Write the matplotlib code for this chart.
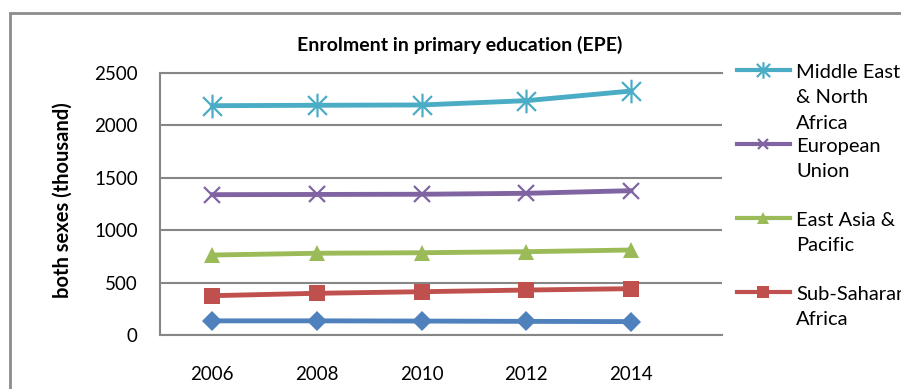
import numpy as np
import matplotlib.pyplot as plt
from matplotlib.path import Path
from matplotlib.lines import Line2D
from matplotlib.patches import Rectangle

plt.rcParams['font.family'] = ['Lato', 'DejaVu Sans']

years = [2006, 2008, 2010, 2012, 2014]
mena = [2188, 2192, 2195, 2236, 2328]
eu = [1339, 1341, 1343, 1352, 1377]
east_asia = [763, 780, 785, 795, 811]
ssa = [375, 398, 413, 429, 442]
other = [135, 135, 133, 130, 128]

labels = ['Middle East\n& North\nAfrica', 'European\nUnion',
          'East Asia &\nPacific', 'Sub-Saharan\nAfrica']

# asterisk like the Excel one: vertical bar plus an X
star = Path([(0, -1), (0, 1), (-0.8, -0.8), (0.8, 0.8), (-0.8, 0.8), (0.8, -0.8)],
            [Path.MOVETO, Path.LINETO, Path.MOVETO, Path.LINETO, Path.MOVETO, Path.LINETO])

W, H = 901, 389
fig = plt.figure(figsize=(W / 100, H / 100), dpi=100)
ax = fig.add_axes([160 / W, 1 - 335 / H, (722 - 160) / W, (335 - 73) / H])

# outer chart border (cut off on the right and bottom)
fig.add_artist(Rectangle((10 / W, -0.1), 1.2, 1.1 - 13 / H, transform=fig.transFigure,
                         fill=False, edgecolor='#8c8c8c', linewidth=2))

series = [
    (mena, '#4BACC6', star, 17, 1.6),
    (eu, '#8064A2', 'x', 11, 1.6),
    (east_asia, '#9BBB59', '^', 12, 0),
    (ssa, '#C0504D', 's', 12, 0),
    (other, '#4F81BD', 'D', 10, 0),
]
for vals, c, m, ms, mew in series:
    ax.plot(years, vals, color=c, linewidth=3.5, marker=m, markersize=ms,
            markeredgewidth=mew, markeredgecolor=c, markerfacecolor=c, zorder=3)

ax.set_xlim(2005.0, 2015.74)
ax.set_ylim(0, 2500)
ax.set_yticks(np.arange(0, 2501, 500))
ax.set_xticks(years)
ax.yaxis.grid(True, color='#868686', linewidth=1.5)
ax.set_axisbelow(True)
ax.tick_params(length=0, labelsize=13.5)
ax.tick_params(axis='y', pad=16)
ax.tick_params(axis='x', pad=22)
for s in ['left', 'top', 'bottom']:
    ax.spines[s].set_color('#868686')
    ax.spines[s].set_linewidth(1.5)
ax.spines['right'].set_visible(False)

fig.text(460 / W, 1 - 45 / H, 'Enrolment in primary education (EPE)',
         ha='center', va='center', fontsize=14, fontweight='bold')
fig.text(63 / W, 1 - 200 / H, 'both sexes (thousand)', rotation=90,
         ha='center', va='center', fontsize=14.5, fontweight='bold')

# legend on the right, drawn by hand to keep the Excel spacing
leg_y = [70, 144, 218, 292]
for (vals, c, m, ms, mew), lab, y in zip(series, labels, leg_y):
    fy = 1 - y / H
    fig.add_artist(Line2D([737 / W, 790 / W], [fy, fy], transform=fig.transFigure,
                          color=c, linewidth=3))
    fig.add_artist(Line2D([763 / W], [fy], transform=fig.transFigure, color=c,
                          marker=m, markersize=ms * 0.7, markeredgewidth=mew,
                          markeredgecolor=c, markerfacecolor=c))
    fig.text(796 / W, fy + 6 / H, lab, ha='left', va='top', fontsize=14.5,
             linespacing=1.6)

fig.savefig('out.png', dpi=100)
